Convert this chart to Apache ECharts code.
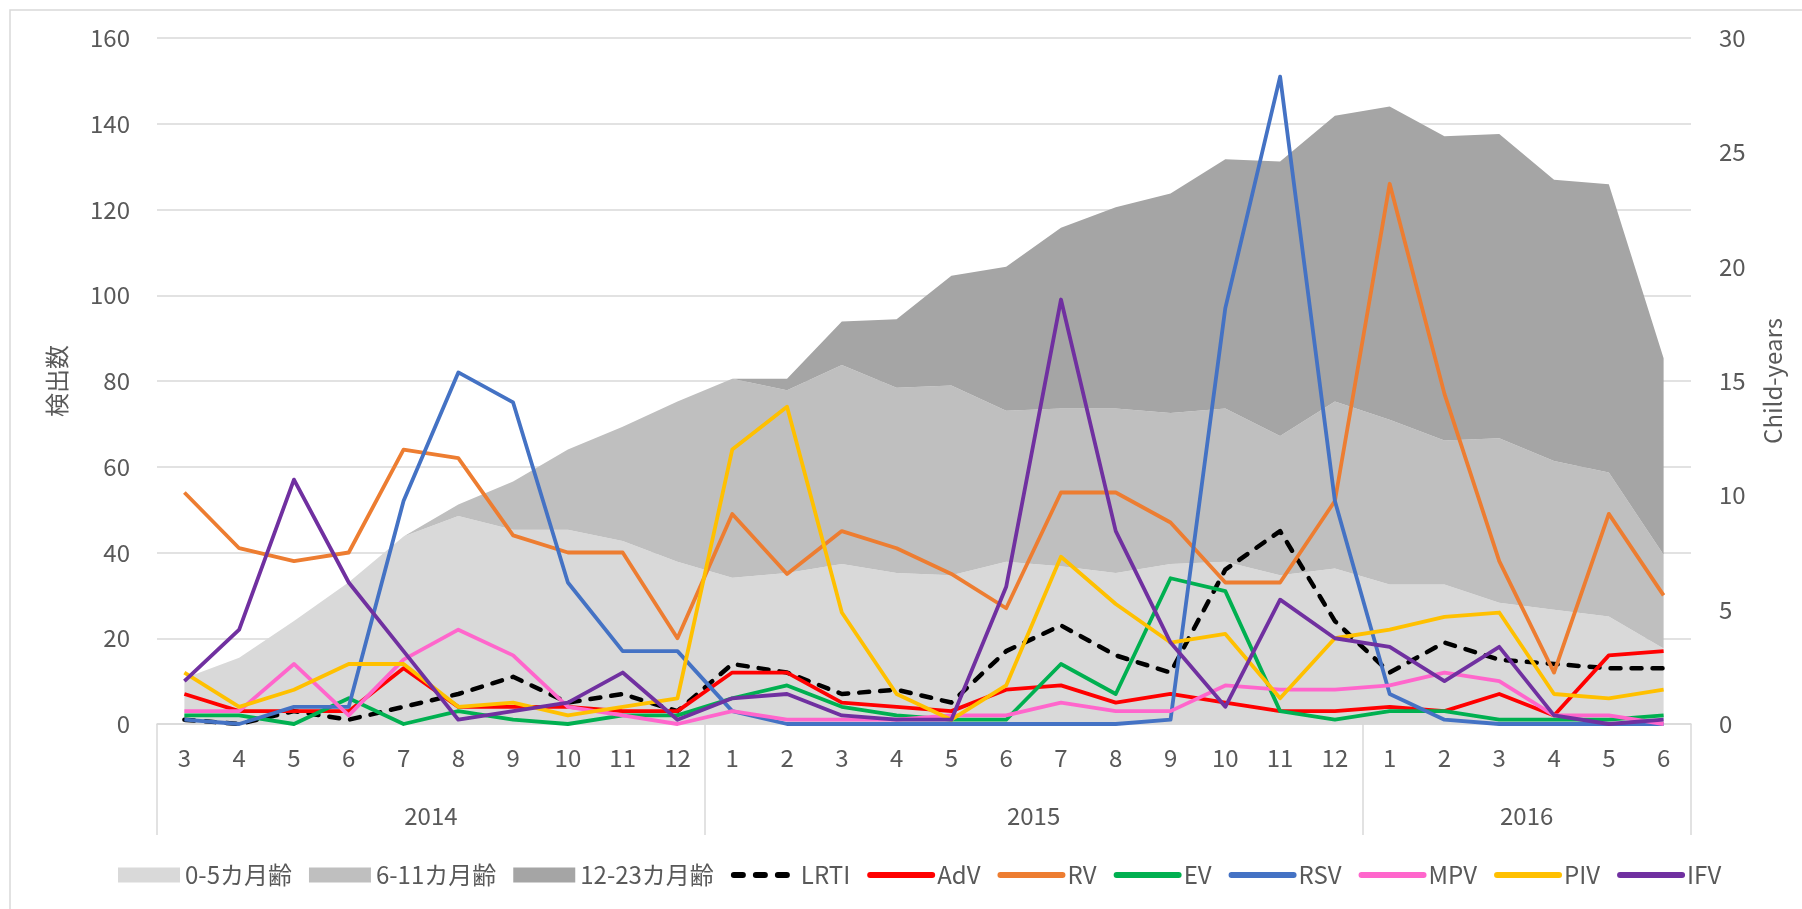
<!DOCTYPE html>
<html>
<head>
<meta charset="utf-8">
<title>chart</title>
<script src="https://cdn.jsdelivr.net/npm/echarts@6/dist/echarts.min.js"></script>
<style>
  html, body { margin: 0; padding: 0; background: #fff; }
  #main { width: 1802px; height: 909px; }
</style>
</head>
<body>
<div id="main"></div>
<script>
// x axis: months, grouped by year
const months = ['3','4','5','6','7','8','9','10','11','12',
  '1','2','3','4','5','6','7','8','9','10','11','12',
  '1','2','3','4','5','6'];
const years = ['2014', '2015', '2016'];
const yearLengths = [10, 12, 6];

// left axis ticks / right axis ticks
const leftTicks = [0, 20, 40, 60, 80, 100, 120, 140, 160];
const rightTicks = [0, 5, 10, 15, 20, 25, 30];

// child-years by age group (right axis, stacked)
const age0to5 = [2.0, 2.9, 4.5, 6.2, 8.2, 9.1, 8.5, 8.5, 8.0, 7.1,
  6.4, 6.6, 7.0, 6.6, 6.5, 7.1, 6.9, 6.6, 7.0, 7.1, 6.5, 6.8,
  6.1, 6.1, 5.3, 5.0, 4.7, 3.3];
const age6to11 = [0, 0, 0, 0, 0, 0.5, 2.1, 3.5, 5.0, 7.0,
  8.7, 8.0, 8.7, 8.1, 8.3, 6.6, 6.9, 7.2, 6.6, 6.7, 6.1, 7.3,
  7.2, 6.3, 7.2, 6.5, 6.3, 4.1];
const age12to23 = [0, 0, 0, 0, 0, 0, 0, 0, 0, 0,
  0, 0.5, 1.9, 3.0, 4.8, 6.3, 7.9, 8.8, 9.6, 10.9, 12.0, 12.5,
  13.7, 13.3, 13.3, 12.3, 12.6, 8.6];

// detections (left axis)
const lrti = [1, 0, 3, 1, 4, 7, 11, 5, 7, 3,
  14, 12, 7, 8, 5, 17, 23, 16, 12, 36, 45, 24,
  12, 19, 15, 14, 13, 13];
const adv = [7, 3, 3, 3, 13, 4, 4, 4, 3, 3,
  12, 12, 5, 4, 3, 8, 9, 5, 7, 5, 3, 3,
  4, 3, 7, 2, 16, 17];
const rv = [54, 41, 38, 40, 64, 62, 44, 40, 40, 20,
  49, 35, 45, 41, 35, 27, 54, 54, 47, 33, 33, 52,
  126, 77, 38, 12, 49, 30];
const ev = [2, 2, 0, 6, 0, 3, 1, 0, 2, 2,
  6, 9, 4, 2, 1, 1, 14, 7, 34, 31, 3, 1,
  3, 3, 1, 1, 1, 2];
const rsv = [1, 0, 4, 4, 52, 82, 75, 33, 17, 17,
  3, 0, 0, 0, 0, 0, 0, 0, 1, 97, 151, 52,
  7, 1, 0, 0, 0, 0];
const mpv = [3, 3, 14, 2, 15, 22, 16, 4, 2, 0,
  3, 1, 1, 1, 2, 2, 5, 3, 3, 9, 8, 8,
  9, 12, 10, 2, 2, 0];
const piv = [12, 4, 8, 14, 14, 4, 5, 2, 4, 6,
  64, 74, 26, 7, 1, 9, 39, 28, 19, 21, 6, 20,
  22, 25, 26, 7, 6, 8];
const ifv = [10, 22, 57, 33, 17, 1, 3, 5, 12, 1,
  6, 7, 2, 1, 1, 32, 99, 45, 19, 4, 29, 20,
  18, 10, 18, 2, 0, 1];

// year boundaries and label positions on a 0..28 scale
const yearEdges = [0];
const yearMids = [];
yearLengths.forEach(function (n, i) {
  yearMids.push(yearEdges[i] + n / 2);
  yearEdges.push(yearEdges[i] + n);
});

const textColor = '#595959';
const gridColor = '#d9d9d9';
const font = 'Noto Sans CJK JP';

function areaSeries(name, data, color) {
  return {
    name: name,
    type: 'line',
    yAxisIndex: 1,
    stack: 'age',
    data: data,
    symbol: 'none',
    color: color,
    lineStyle: { width: 0 },
    areaStyle: { color: color, opacity: 1 },
    z: 1,
    silent: true
  };
}

function lineSeries(name, data, color, dashed) {
  return {
    name: name,
    type: 'line',
    data: data,
    symbol: 'none',
    color: color,
    lineStyle: {
      color: color,
      width: dashed ? 4.5 : 3.8,
      type: dashed ? [10, 11] : 'solid',
      cap: dashed ? 'round' : 'butt',
      join: 'round'
    },
    z: 3
  };
}

// legend: rectangles for the areas, plain lines (no marker) for the rest
const areaNames = ['0-5カ月齢', '6-11カ月齢', '12-23カ月齢'];
const lineNames = ['LRTI', 'AdV', 'RV', 'EV', 'RSV', 'MPV', 'PIV', 'IFV'];
const legendData = areaNames.map(function (n) {
  return { name: n, icon: 'rect' };
}).concat(lineNames.map(function (n, i) {
  return {
    name: n,
    itemStyle: { opacity: 0 },
    lineStyle: { width: 6, cap: 'round', type: i === 0 ? [9, 13] : 'solid' }
  };
}));

const chart = echarts.init(document.getElementById('main'));
chart.setOption({
  animation: false,
  textStyle: { fontFamily: font, color: textColor },
  graphic: [{
    type: 'rect',
    shape: { x: 10, y: 10, width: 2000, height: 1000 },
    style: { fill: 'none', stroke: gridColor, lineWidth: 1.5 },
    silent: true
  }],
  grid: { left: 157, right: 111, top: 38, bottom: 185 },
  legend: {
    left: 113,
    top: 858,
    itemWidth: 62,
    itemHeight: 15,
    itemGap: 17,
    textStyle: { fontSize: 24, color: textColor, fontFamily: font },
    data: legendData
  },
  xAxis: [{
    type: 'category',
    data: months,
    boundaryGap: true,
    axisLine: { lineStyle: { color: gridColor, width: 1.5 } },
    axisTick: { show: false },
    axisLabel: { interval: 0, fontSize: 24, color: textColor, margin: 22 }
  }, {
    type: 'value',
    min: 0,
    max: months.length,
    position: 'bottom',
    axisLine: { show: false },
    splitLine: { show: false },
    axisTick: {
      show: true,
      customValues: yearEdges,
      length: 111,
      lineStyle: { color: gridColor, width: 1.5 }
    },
    axisLabel: {
      customValues: yearMids,
      fontSize: 24,
      color: textColor,
      margin: 80,
      formatter: function (v) {
        const i = yearMids.indexOf(v);
        return i >= 0 ? years[i] : '';
      }
    }
  }],
  yAxis: [{
    type: 'value',
    min: leftTicks[0],
    max: leftTicks[leftTicks.length - 1],
    interval: leftTicks[1] - leftTicks[0],
    name: '検出数',
    nameLocation: 'middle',
    nameRotate: 90,
    nameGap: 88,
    nameTextStyle: { fontSize: 24, color: textColor },
    axisLine: { show: false },
    axisTick: { show: false },
    axisLabel: { fontSize: 24, color: textColor, margin: 27 },
    splitLine: { lineStyle: { color: gridColor, width: 1.5 } }
  }, {
    type: 'value',
    min: rightTicks[0],
    max: rightTicks[rightTicks.length - 1],
    interval: rightTicks[1] - rightTicks[0],
    name: 'Child-years',
    nameLocation: 'middle',
    nameRotate: 90,
    nameGap: 70,
    nameTextStyle: { fontSize: 24, color: textColor },
    axisLine: { show: false },
    axisTick: { show: false },
    axisLabel: { fontSize: 24, color: textColor, margin: 28 },
    splitLine: { show: false }
  }],
  series: [
    areaSeries(areaNames[0], age0to5, '#d9d9d9'),
    areaSeries(areaNames[1], age6to11, '#bfbfbf'),
    areaSeries(areaNames[2], age12to23, '#a5a5a5'),
    lineSeries('LRTI', lrti, '#000000', true),
    lineSeries('AdV', adv, '#ff0000'),
    lineSeries('RV', rv, '#ed7d31'),
    lineSeries('EV', ev, '#00b050'),
    lineSeries('RSV', rsv, '#4472c4'),
    lineSeries('MPV', mpv, '#ff66cc'),
    lineSeries('PIV', piv, '#ffc000'),
    lineSeries('IFV', ifv, '#7030a0')
  ]
});
</script>
</body>
</html>
